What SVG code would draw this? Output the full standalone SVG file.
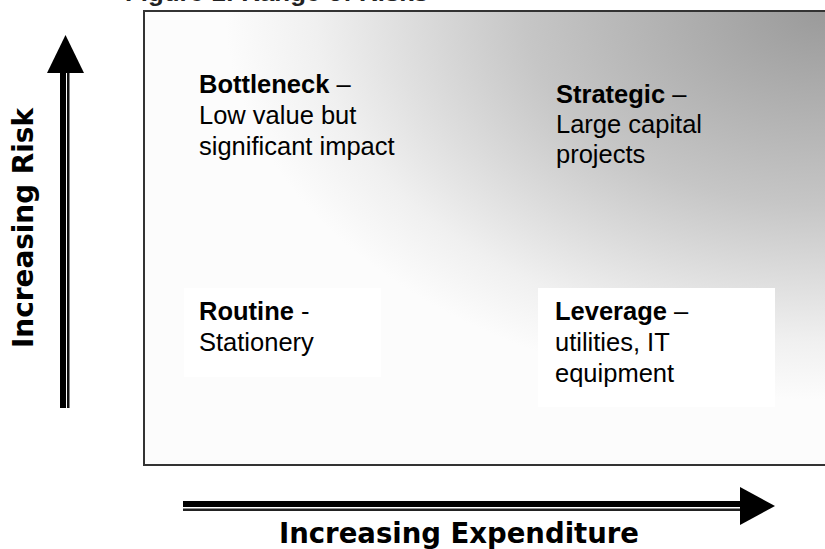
<svg xmlns="http://www.w3.org/2000/svg" width="825" height="549" viewBox="0 0 825 549">
<defs>
<radialGradient id="bg" gradientUnits="userSpaceOnUse" cx="825" cy="10" r="1" gradientTransform="translate(825 10) scale(600 390) translate(-825 -10)">
<stop offset="0" stop-color="#9a9a9a"/>
<stop offset="0.5" stop-color="#c6c6c6"/>
<stop offset="0.85" stop-color="#f0f0f0"/>
<stop offset="1" stop-color="#fcfcfc"/>
</radialGradient>
<style>
.q{font-family:"Liberation Sans",Arial,sans-serif;font-size:25.5px;fill:#000}
.b{font-weight:bold}
.ax{font-family:"DejaVu Sans Condensed","DejaVu Sans",sans-serif;font-weight:bold;font-size:28px;fill:#000}
.box{fill:#fff}
</style>
</defs>
<rect width="825" height="549" fill="#fff"/>
<text x="125" y="1" font-family="Liberation Sans, Arial, sans-serif" font-weight="bold" font-size="24" fill="#222" textLength="303" lengthAdjust="spacingAndGlyphs">Figure 1: Range of Risks</text>
<g id="frame">
<rect x="144" y="11" width="700" height="454" fill="url(#bg)" stroke="#333" stroke-width="2"/>
</g>
<g id="bottleneck">
<text class="q" x="199" y="93"><tspan class="b">Bottleneck</tspan> –</text>
<text class="q" x="199" y="124">Low value but</text>
<text class="q" x="199" y="155">significant impact</text>
</g>
<g id="strategic">
<text class="q" x="556" y="103"><tspan class="b">Strategic</tspan> –</text>
<text class="q" x="556" y="133">Large capital</text>
<text class="q" x="556" y="163">projects</text>
</g>
<g id="routine">
<rect class="box" x="184" y="288" width="197" height="89"/>
<text class="q" x="199" y="320"><tspan class="b">Routine</tspan> -</text>
<text class="q" x="199" y="351">Stationery</text>
</g>
<g id="leverage">
<rect class="box" x="538" y="288" width="237" height="119"/>
<text class="q" x="555" y="320"><tspan class="b">Leverage</tspan> –</text>
<text class="q" x="555" y="351">utilities, IT</text>
<text class="q" x="555" y="382">equipment</text>
</g>
<g id="connectors">
<g id="risk-arrow">
<rect x="60" y="72" width="6" height="336" fill="#000"/>
<rect x="67" y="72" width="2.5" height="336" fill="#111"/>
<polygon points="47,73 65.5,35 84,73" fill="#000"/>
</g>
<g id="expenditure-arrow">
<rect x="183" y="501" width="558" height="6" fill="#000"/>
<rect x="183" y="508.5" width="558" height="2.5" fill="#222"/>
<polygon points="740,487 775,506 740,525" fill="#000"/>
</g>
</g>
<text class="ax" x="0" y="0" transform="translate(33 228) rotate(-90)" text-anchor="middle" textLength="240" lengthAdjust="spacingAndGlyphs">Increasing Risk</text>
<text class="ax" x="459" y="543" text-anchor="middle" textLength="360" lengthAdjust="spacingAndGlyphs">Increasing Expenditure</text>
</svg>
